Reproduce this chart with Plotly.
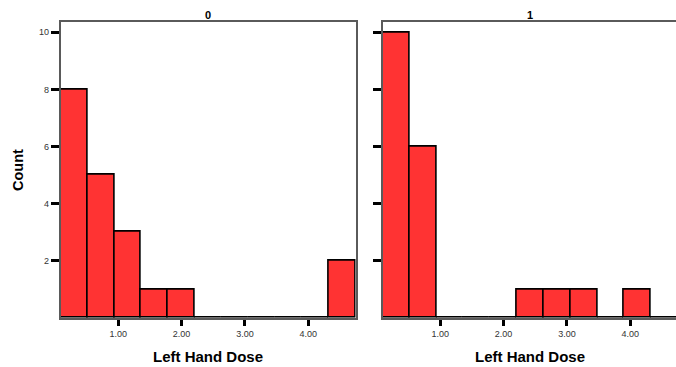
import plotly.graph_objects as go

# Histogram of Left Hand Dose, split by group (0 / 1)
groups = ["0", "1"]
bin_start = 0.09
bin_width = 0.4236
n_bins = 11
counts_group0 = [8, 5, 3, 1, 1, 0, 0, 0, 0, 0, 2]
counts_group1 = [10, 6, 0, 0, 0, 1, 1, 1, 0, 1, 0]
x_ticks = [1, 2, 3, 4]
y_ticks = [2, 4, 6, 8, 10]

W, H = 676, 367
bin_centers = [bin_start + (i + 0.5) * bin_width for i in range(n_bins)]
x_end = bin_start + n_bins * bin_width

BAR = "#FF3333"
FRAME = "#5a5a5a"
FONT = "Liberation Sans, Arial, sans-serif"

fig = go.Figure()
for i, counts in enumerate([counts_group0, counts_group1]):
    fig.add_trace(go.Bar(
        x=bin_centers, y=counts, width=bin_width,
        marker=dict(color=BAR, line=dict(color="black", width=1.6)),
        xaxis="x" if i == 0 else "x2", yaxis="y" if i == 0 else "y2",
        showlegend=False,
    ))

# panel geometry in pixels
left_px = (60.7, 355.7)
right_px = (382.7, 676.0)
top_px, bottom_px = 21.7, 317.8
px_per_unit = (left_px[1] - left_px[0]) / (x_end - bin_start)
right_end = bin_start + (right_px[1] - right_px[0]) / px_per_unit

ydom = [1 - bottom_px / H, 1 - top_px / H]
common_x = dict(
    tickvals=x_ticks, tickformat=".2f", ticks="outside", ticklen=6, tickwidth=3,
    tickcolor="black", showgrid=False, zeroline=False, showline=True,
    linecolor=FRAME, linewidth=2, mirror=True,
    tickfont=dict(size=9, color="#333333", family=FONT),
)
common_y = dict(
    range=[0, 10.37], tickvals=y_ticks, ticks="outside", ticklen=8, tickwidth=3,
    tickcolor="black", showgrid=False, zeroline=False, showline=True,
    linecolor=FRAME, linewidth=2, domain=ydom,
    tickfont=dict(size=9, color="#333333", family=FONT),
)

fig.update_layout(
    width=W, height=H,
    margin=dict(l=0, r=0, t=0, b=0),
    paper_bgcolor="white", plot_bgcolor="white",
    bargap=0,
    font=dict(family=FONT, color="black"),
    xaxis=dict(common_x, domain=[left_px[0] / W, left_px[1] / W],
               range=[bin_start, x_end], anchor="y"),
    yaxis=dict(common_y, mirror=True, anchor="x"),
    xaxis2=dict(common_x, domain=[right_px[0] / W, 1.0],
                range=[bin_start, right_end], anchor="y2"),
    yaxis2=dict(common_y, mirror=False, showticklabels=False, anchor="x2"),
)

bold = dict(family=FONT, color="black")
annotations = []
panel_spans = [left_px, (right_px[0], right_px[0] + (left_px[1] - left_px[0]))]
for g, (a, b) in zip(groups, panel_spans):
    cx = (a + b) / 2 / W
    annotations.append(dict(text="<b>%s</b>" % g, x=cx, y=1 - 15 / H, xref="paper", yref="paper",
                            xanchor="center", yanchor="middle", showarrow=False,
                            font=dict(bold, size=11)))
    annotations.append(dict(text="<b>Left Hand Dose</b>", x=cx, y=1 - 356 / H, xref="paper",
                            yref="paper", xanchor="center", yanchor="middle", showarrow=False,
                            font=dict(bold, size=15)))
annotations.append(dict(text="<b>Count</b>", x=18 / W, y=1 - 170 / H, xref="paper", yref="paper",
                        xanchor="center", yanchor="middle", showarrow=False, textangle=-90,
                        font=dict(bold, size=14.5)))
fig.update_layout(annotations=annotations)

fig.write_html("out.html")
